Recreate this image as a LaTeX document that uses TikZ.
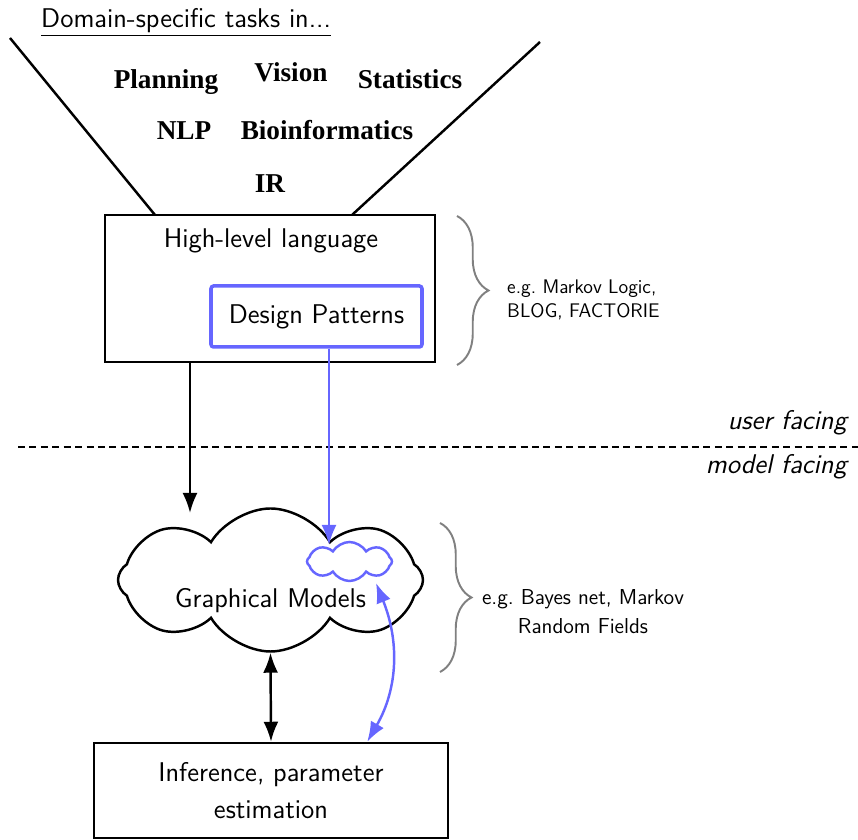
\documentclass[tikz,border=0pt]{standalone}
\usepackage{fontspec}
\newfontfamily\domainfont{Liberation Serif}
\usepackage{tikz}
\usetikzlibrary{arrows.meta,shapes.symbols,decorations.pathreplacing,calc}
\definecolor{dpblue}{RGB}{102,102,255}
\definecolor{bracegray}{RGB}{128,128,128}

\tikzset{
  every node/.style={font=\sffamily\fontsize{15.4}{21}\selectfont},
  domainword/.style={anchor=base, font=\domainfont\bfseries\fontsize{15.5}{18}\selectfont},
  layerbox/.style={draw, line width=1.4pt, inner sep=0pt},
  dpbox/.style={draw=dpblue, line width=2pt, rounded corners=1.5pt, inner sep=0pt},
  sidenote/.style={align=left, font=\sffamily\fontsize{11.2}{13.7}\selectfont},
  brc/.style={draw=bracegray, line width=1.1pt, decorate, decoration={brace, amplitude=0.63cm}},
  puffy/.style={cloud, cloud ignores aspect, inner sep=0pt, line width=1.4pt},
  arr/.style={-{Latex[length=0.4cm,width=0.3cm]}},
  darr/.style={{Latex[length=0.4cm,width=0.3cm]}-{Latex[length=0.4cm,width=0.3cm]}}
}

\begin{document}
\begin{tikzpicture}
    \useasboundingbox (0,0) rectangle (17.16,16.8);

    % Funnel of application domains
    \node[anchor=base west] (title) at (0.7,16.24) {\underline{Domain-specific tasks in...}};
    \coordinate (funLtop) at (0.2,16.04);
    \coordinate (funLbot) at (3.1,12.5);
    \coordinate (funRtop) at (10.8,15.96);
    \coordinate (funRbot) at (7.04,12.5);
    \draw[line width=1.4pt] (funLtop) -- (funLbot);
    \draw[line width=1.4pt] (funRtop) -- (funRbot);

    \node[domainword] (planning) at (3.32,15.02) {Planning};
    \node[domainword] (vision) at (5.82,15.16) {Vision};
    \node[domainword] (stats) at (8.2,15.02) {Statistics};
    \node[domainword] (nlp) at (3.68,14.0) {NLP};
    \node[domainword] (bio) at (6.54,14.0) {Bioinformatics};
    \node[domainword] (ir) at (5.4,12.94) {IR};

    % High-level language with design patterns
    \node[layerbox, minimum width=6.6cm, minimum height=2.94cm] (hll) at (5.4,11.03) {};
    \node[anchor=base] (hlltext) at (5.42,11.84) {High-level language};
    \node[dpbox, minimum width=4.22cm, minimum height=1.22cm] (dp) at (6.33,10.47) {Design Patterns};

    \draw[brc] (9.14,12.48) -- (9.14,9.5);
    \node[sidenote, anchor=west] (hllex) at (10.02,10.8) {e.g.\ Markov Logic,\\BLOG, FACTORIE};

    % Separation of the two levels
    \coordinate (sepL) at (0.36,7.86);
    \coordinate (sepR) at (17.16,7.86);
    \draw[dash pattern=on 4pt off 2.5pt, line width=0.6pt] (sepL) -- (sepR);
    \node[anchor=base east, font=\sffamily\itshape\fontsize{15.4}{18}\selectfont] (user) at (17.06,8.2) {user facing};
    \node[anchor=base east, font=\sffamily\itshape\fontsize{15.4}{18}\selectfont] (model) at (17.06,7.32) {model facing};

    % Graphical models
    \node[puffy, draw, cloud puffs=8, cloud puff arc=118, minimum width=6.1cm, minimum height=2.86cm] (gm) at (5.41,5.2) {};
    \node[anchor=base] (gmtext) at (5.41,4.64) {Graphical Models};
    \node[puffy, draw=dpblue, cloud puffs=8, cloud puff arc=118, minimum width=1.7cm, minimum height=0.78cm] (sc) at (6.99,5.57) {};

    \draw[brc] (8.8,6.34) -- (8.8,3.36);
    \node[sidenote, align=center, font=\sffamily\fontsize{12.3}{16.4}\selectfont] (gmex) at (11.66,4.56) {e.g.\ Bayes net, Markov\\Random Fields};

    % Inference
    \node[layerbox, minimum width=7.08cm, minimum height=1.9cm, align=center] (inf) at (5.42,0.99) {Inference, parameter\\estimation};

    % Connections between the levels
    \coordinate (hllend) at (3.8,6.54);
    \coordinate (dpend) at (6.58,5.9);
    \draw[arr, line width=1.4pt] (hll.south -| hllend) -- (hllend);
    \draw[arr, line width=1.4pt, dpblue] (dp.south -| dpend) -- (dpend);
    \draw[darr, line width=1.4pt] (gm.south) -- (inf.north);
    \draw[darr, line width=1.4pt, dpblue] (7.52,5.14) to[out=-68, in=60] ($(inf.north)!0.54!(inf.north east)$);
\end{tikzpicture}
\end{document}
